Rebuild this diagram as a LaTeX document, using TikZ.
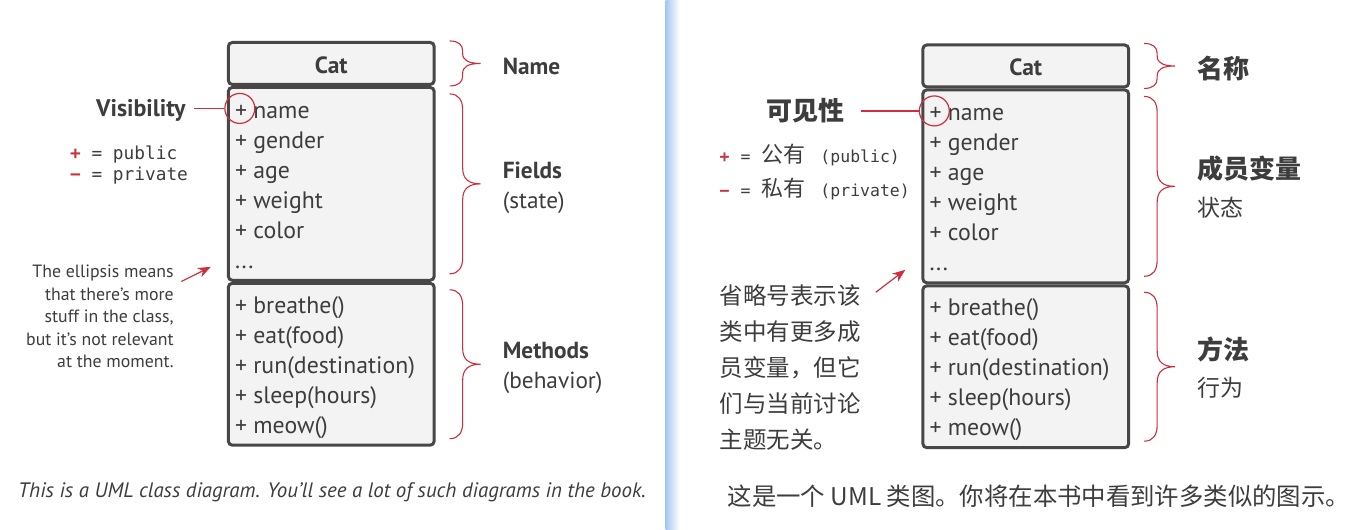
\documentclass[tikz,border=0pt]{standalone}
\usepackage{fontspec}
\setmainfont{PT Sans}
\setmonofont{DejaVu Sans Mono}
\newfontfamily\cjk{Noto Sans CJK SC}
\usetikzlibrary{arrows.meta,calc}
\definecolor{tinta}{HTML}{3D3D3D}
\definecolor{bordeCaja}{HTML}{474747}
\definecolor{fondoCaja}{HTML}{F3F3F3}
\definecolor{rojo}{HTML}{CC2F3D}
\definecolor{azulRaya}{HTML}{A7C7F2}

% brace: top point, height, bend
\newcommand\llave[3]{%
  \draw[llave,shift={#1}] (0,0) .. controls (9,0) and (13,{0.4*#3}) .. (13,#3)
    -- (13,{#2/2-#3}) .. controls (13,{#2/2-0.3*#3}) and (19,{#2/2}) .. (31,{#2/2})
    .. controls (19,{#2/2}) and (13,{#2/2+0.3*#3}) .. (13,{#2/2+#3})
    -- (13,{#2-#3}) .. controls (13,{#2-0.4*#3}) and (9,#2) .. (0,#2);}

% class box, #1 = prefix of the node names
\newcommand\gato[1]{%
  \draw[comp] (228.5,42.5) rectangle (434.5,84.5);
  \draw[comp] (228.5,87.5) rectangle (434.5,280.5);
  \draw[comp] (228.5,283.5) rectangle (434.5,445.5);
  \node[titulo,anchor=base] (#1cat) at (331.5,73.5) {Cat};
  \foreach \m [count=\i from 0] in {name,gender,age,weight,color}
    \node[miembro] (#1f\i) at (235,{118.5+30*\i}) {+ \m};
  \node[miembro] (#1fmas) at (235,268.5) {...};
  \foreach \m [count=\i from 0] in {breathe(),eat(food),run(destination),sleep(hours),meow()}
    \node[miembro] (#1m\i) at (235,{313.5+30*\i}) {+ \m};
  \node[circulo] (#1vis) at (240,108.5) {};
  \llave{(450,41)}{45}{10}
  \llave{(450,94)}{180}{16}
  \llave{(450,290)}{149}{16}
}

\begin{document}
\begin{tikzpicture}[x=1pt,y=-1pt,
  every node/.style={text=tinta,inner sep=0pt},
  comp/.style={draw=bordeCaja,fill=fondoCaja,line width=3pt,rounded corners=4pt},
  miembro/.style={anchor=base west,font=\fontsize{23.8}{28}\selectfont},
  titulo/.style={font=\bfseries\fontsize{23.5}{27}\selectfont},
  etiqueta/.style={anchor=base west,font=\bfseries\fontsize{23.3}{27}\selectfont},
  nota/.style={anchor=base west,font=\fontsize{23.3}{27}\selectfont},
  clave/.style={anchor=base west,font=\ttfamily\fontsize{17.8}{20}\selectfont},
  cjkb/.style={anchor=base west,font=\cjk\bfseries\fontsize{26}{30}\selectfont},
  cjkn/.style={anchor=base west,font=\cjk\fontsize{23}{28}\selectfont},
  circulo/.style={circle,draw=rojo,line width=1.2pt,minimum size=30pt},
  llave/.style={draw=rojo,line width=1.1pt},
  linea/.style={draw=rojo,line width=1.2pt},
  flecha/.style={linea,-{Stealth[length=13pt,width=10pt]}}]
  \fill[white] (0,0) rectangle (1350,530);
  \shade[left color=azulRaya,right color=white] (666,0) rectangle (680,530);

  % english panel
  \gato{l}
  \node[etiqueta] (lnombre) at (503,75) {Name};
  \node[etiqueta] (lcampos) at (503,179) {Fields};
  \node[nota] (lestado) at (503,209) {(state)};
  \node[etiqueta] (lmetodos) at (503,359) {Methods};
  \node[nota] (lconducta) at (503,389) {(behavior)};
  \node[etiqueta,anchor=base east,font=\bfseries\fontsize{24}{28}\selectfont] (lvisib) at (186,116.5) {Visibility};
  \coordinate (ltrazo) at ([xshift=8pt]lvisib.east);
  \draw[linea] (ltrazo |- lvis.west) -- (lvis.west);
  \node[clave] (lpub) at (70,159.5) {\textcolor{rojo}{\bfseries +} = public};
  \node[clave] (lpriv) at (70,180.5) {\textcolor{rojo}{\bfseries −} = private};
  \node[anchor=north east,align=right,font=\fontsize{17.8}{22.5}\selectfont] (lnota) at (174,265)
    {The ellipsis means\\that there’s more\\stuff in the class,\\but it’s not relevant\\at the moment.};
  \coordinate (lpunta) at (211,267);
  \draw[flecha] ([shift={(7.5pt,-16.7pt)}]lnota.north east) -- (lpunta);
  \node[anchor=base west,font=\itshape\fontsize{20.9}{25}\selectfont] (lpie) at (18,497.5)
    {This is a UML class diagram. You’ll see a lot of such diagrams in the book.};

  % chinese panel
  \begin{scope}[shift={(695,2.5)}]
    \gato{r}
  \end{scope}
  \node[cjkb] (rnombre) at (1198,78.5) {名称};
  \node[cjkb] (rcampos) at (1198,179) {成员变量};
  \node[cjkn] (restado) at (1198,216.5) {状态};
  \node[cjkb] (rmetodos) at (1198,359.5) {方法};
  \node[cjkn] (rconducta) at (1198,396.5) {行为};
  \node[cjkb,anchor=base east] (rvisib) at (845,120.5) {可见性};
  \coordinate (rtrazo) at ([xshift=17pt]rvisib.east);
  \draw[linea] (rtrazo |- rvis.west) -- (rvis.west);
  \node[anchor=base west,font=\ttfamily\fontsize{16.5}{20}\selectfont] (rpub) at (720,162.5)
    {\textcolor{rojo}{\bfseries +}\hspace{11pt}=\hspace{11pt}{\cjk\fontsize{22}{26}\selectfont 公有}\hspace{15pt}(public)};
  \node[anchor=base west,font=\ttfamily\fontsize{16.5}{20}\selectfont] (rpriv) at (720,196.5)
    {\textcolor{rojo}{\bfseries −}\hspace{11pt}=\hspace{11pt}{\cjk\fontsize{22}{26}\selectfont 私有}\hspace{15pt}(private)};
  \node[anchor=north west,align=left,font=\cjk\fontsize{23.5}{36}\selectfont] (rnota) at (720,284.5)
    {省略号表示该\\类中有更多成\\员变量，但它\\们与当前讨论\\主题无关。};
  \coordinate (rpunta) at (906,270);
  \draw[flecha] ([shift={(15pt,-8pt)}]rnota.north east) -- (rpunta);
  \node[anchor=base west,font=\cjk\fontsize{24.4}{28}\selectfont] (rpie) at (728,505.5)
    {这是一个 UML 类图。你将在本书中看到许多类似的图示。};
\end{tikzpicture}
\end{document}
